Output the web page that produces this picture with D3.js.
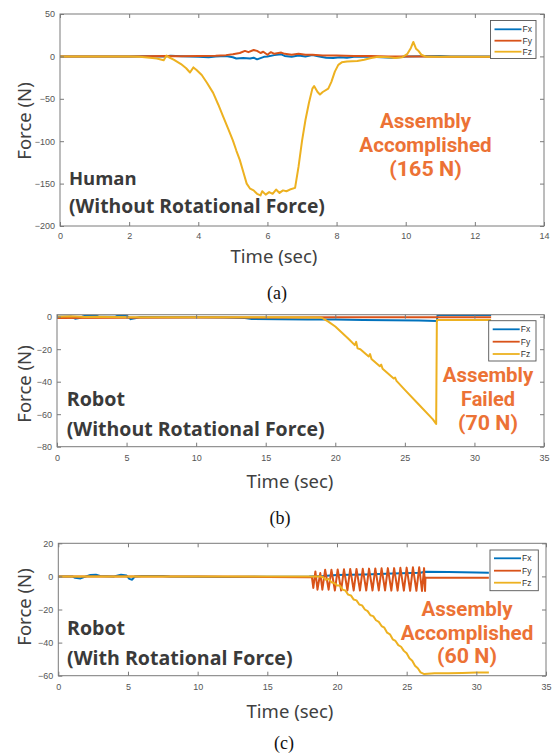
<!DOCTYPE html>
<html><head><meta charset="utf-8">
<script src="https://cdn.jsdelivr.net/npm/d3@7"></script>
<style>body{margin:0;background:#fff}</style>
</head><body>
<svg id="chart" width="553" height="756"></svg>
<script>
// ---------- DATA ----------
const seriesNames = ["Fx", "Fy", "Fz"];
const seriesColors = ["#0072BD", "#D95319", "#EDB120"];

// Panel (a): Human, without rotational force  [time (s), force (N)]
const humanFx = [[0,0],[1,0],[2,0],[2.5,0.2],[3,0],[3.2,0.8],[3.5,0.3],[4,-0.5],[4.3,-1],[4.5,0],[4.8,0.5],[5.0,-1],[5.1,-2.5],[5.3,-2],[5.5,-2.5],[5.6,-1.5],[5.7,-3.5],[5.8,-2],[5.9,-0.5],[6.0,0],[6.2,1.5],[6.4,2.5],[6.5,0.5],[6.7,-0.5],[6.9,1],[7.1,0],[7.3,1.5],[7.5,0],[7.7,-1.5],[7.9,-2],[8.1,-1],[8.3,-1.5],[8.5,-0.5],[8.8,0],[9.0,-0.3],[9.3,-1],[9.6,-1.5],[9.8,-1],[10,0],[10.5,0.3],[11,0.5],[11.3,0],[12,0],[12.5,0]];
const humanFy = [[0,0],[2,0],[3,0.5],[3.5,0.2],[4,0.5],[4.5,0.8],[4.8,1.5],[5.0,2.5],[5.2,4],[5.35,6.5],[5.45,5],[5.6,7.5],[5.7,6.5],[5.8,4],[5.88,5.5],[6.0,2],[6.1,5],[6.2,3],[6.4,4.5],[6.5,3],[6.7,2],[6.9,3],[7.1,2],[7.3,2],[7.6,1],[8,1],[8.5,0.5],[9,0.5],[9.5,0],[10,0],[10.5,0],[11,-0.5],[12.5,-0.5]];
const humanFz = [[0,0],[0.5,0],[1,0],[1.5,0],[2,0],[2.3,-0.5],[2.6,-1.5],[2.8,-2.5],[3.0,-4.5],[3.08,1],[3.15,-1],[3.3,-4],[3.5,-9],[3.65,-14],[3.76,-19],[3.86,-13],[3.95,-16],[4.1,-22],[4.25,-31],[4.43,-43],[4.58,-57],[4.72,-71],[4.86,-85],[5.0,-99],[5.1,-111],[5.2,-122],[5.3,-136],[5.4,-150],[5.5,-156],[5.6,-158],[5.7,-162],[5.8,-164],[5.85,-159],[5.95,-163],[6.05,-160],[6.15,-162],[6.25,-157],[6.35,-161],[6.45,-158],[6.55,-159],[6.65,-157],[6.8,-155],[6.9,-130],[7.0,-100],[7.1,-75],[7.2,-55],[7.3,-38],[7.35,-35],[7.45,-42],[7.52,-45],[7.6,-42],[7.76,-38],[7.85,-30],[7.95,-18],[8.05,-10],[8.15,-7],[8.3,-6],[8.6,-5.5],[8.8,-4],[9.0,-2],[9.2,-0.5],[9.5,-1],[9.7,-2],[9.9,-1],[10.05,3],[10.15,10],[10.22,17],[10.3,9],[10.38,6],[10.45,2],[10.6,-0.5],[11,-0.5],[11.5,-0.5],[12,-0.5],[12.5,-0.5]];

// Panel (b): Robot, without rotational force
const robotAFx = [[0,0],[1,0],[1.3,-1.2],[1.6,-0.8],[1.9,0.3],[2.2,0.8],[2.8,0.8],[3,0],[4.2,0],[4.4,0.8],[5,0.8],[5.3,-1.5],[5.6,-1],[6,-0.2],[8,-0.3],[10,-0.3],[12,-0.5],[13.5,-0.8],[14,-1.4],[16,-1.6],[18,-1.7],[20,-1.8],[22,-2],[24,-2.2],[26,-2.4],[27.3,-2.6],[27.35,1],[29,1],[31.2,1]];
const robotAFy = [[0,-0.8],[5,-0.6],[10,-0.5],[15,-0.5],[20,-0.4],[25,-0.4],[27.3,-0.4],[31.2,-0.4]];
const robotAFz = [[0,0],[1,0.3],[2,-0.2],[3,0],[5,-0.3],[8,-0.3],[12,-0.3],[16,-0.3],[19,-0.5],[19.5,-3],[20,-6],[20.5,-10],[21,-14],[21.4,-17.5],[21.5,-15.5],[21.6,-19.5],[21.8,-20],[22.4,-24.5],[22.5,-23],[22.6,-26],[23.2,-30.5],[23.3,-29.5],[23.4,-32],[24.2,-38],[24.3,-37.5],[24.4,-39.5],[25,-45],[26,-54],[27,-63],[27.25,-66],[27.3,-2],[28,-2],[29,-2],[30,-2],[31.2,-2]];

// Panel (c): Robot, with rotational force
const robotBFx = [[0,0],[1,0],[1.2,-0.8],[1.6,-1.2],[2,0],[2.3,0.8],[2.7,1],[3,0.2],[4,0],[4.5,1],[4.9,0.5],[5.1,-1.5],[5.3,-2],[5.5,0],[6,0.3],[7.5,0.3],[8,0],[10,-0.2],[12,-0.3],[15,-0.2],[18,0],[19,0.3],[20,0.8],[22,1.2],[24,1.8],[26,2.2],[26.3,2.8],[28,2.6],[30,2.3],[30.9,2.2]];
const robotBFy = [[0,0],[1,0],[5,0],[10,0],[15,-0.3],[18.0,-0.5],[18.2,-0.5],[18.3,-7],[18.45,3],[18.6,-8],[18.8,2],[18.95,-8],[19.15,4],[19.4,-8],[19.6,4],[19.85,-8.5],[20.05,4.2],[20.3,-8.5],[20.5,4.3],[20.75,-8.5],[20.95,4.5],[21.2,-8.5],[21.4,4.5],[21.65,-8.5],[21.85,4.6],[22.1,-8.5],[22.3,4.7],[22.55,-8.5],[22.75,4.8],[23.0,-8.5],[23.2,4.9],[23.45,-8.5],[23.65,5],[23.9,-8.6],[24.1,5],[24.35,-8.6],[24.55,5.2],[24.8,-8.6],[25.0,5.3],[25.25,-8.7],[25.45,5.5],[25.7,-8.7],[25.9,5.6],[26.1,-8.8],[26.25,5],[26.32,-8.8],[26.35,-0.8],[28,-0.8],[30.9,-0.8]];
const robotBFz = [[0,0],[5,0],[10,0],[15,0],[18,0],[18.8,0],[19.0,-0.5],[19.2,-2],[19.4,-1.5],[19.6,-3.5],[19.8,-4],[20.0,-5.5],[20.2,-5.5],[20.4,-8],[20.6,-8.5],[20.8,-11],[21.0,-11.5],[21.2,-14],[21.4,-14.5],[21.6,-17],[21.8,-17.5],[22.0,-20],[22.2,-21],[22.4,-23.5],[22.6,-24],[22.8,-26.5],[23.0,-27.5],[23.2,-30],[23.4,-31],[23.6,-34],[23.8,-35],[24.0,-38],[24.2,-39],[24.4,-41.5],[24.6,-42.5],[24.8,-45],[25.0,-46.5],[25.2,-49.5],[25.4,-51],[25.6,-54],[25.8,-55.5],[26.0,-58],[26.26,-59],[27,-58.5],[28,-58.5],[29,-58.3],[30,-58],[30.9,-58]];

// Tick labels
const xTicksA = [0,2,4,6,8,10,12,14];
const yTicksA = [-200,-150,-100,-50,0,50];
const xTicksBC = [0,5,10,15,20,25,30,35];
const yTicksB = [-80,-60,-40,-20,0];
const yTicksC = [-60,-40,-20,0,20];

// Texts
const axisXLabel = "Time (sec)";
const axisYLabel = "Force (N)";
const subjectLabels = [["Human","(Without Rotational Force)"],["Robot","(Without Rotational Force)"],["Robot","(With Rotational Force)"]];
const resultLabels = [["Assembly","Accomplished","(165 N)"],["Assembly","Failed","(70 N)"],["Assembly","Accomplished","(60 N)"]];
const captions = ["(a)","(b)","(c)"];

// ---------- LAYOUT ----------
const panels = [
  {left:60, right:544, top:14, bottom:226, xDomain:[0,14], yDomain:[-200,50], xTicks:xTicksA, yTicks:yTicksA,
   series:[humanFx,humanFy,humanFz],
   legend:{x:490.5,y:20.5,w:45.5,h:38,rows:[29.3,40.7,51.7]},
   subj:{x:69, base:[185,213.3], w:[67.7,256]},
   res:{cx:425.5, base:[127.5,151.5,175.5], w:[91,132.4,72.4]},
   xlab:{cx:274, base:262.5}, ylab:{x:31, cy:121}, cap:{cx:277, base:299}, tickLabY:238.5},
  {left:57, right:544, top:314.7, bottom:446.7, xDomain:[0,35], yDomain:[-80,1.23], xTicks:xTicksBC, yTicks:yTicksB,
   series:[robotAFx,robotAFy,robotAFz],
   legend:{x:488.7,y:320.7,w:47.3,h:40.3,rows:[329.3,341.7,354]},
   subj:{x:66.7, base:[406,436], w:[58.3,258]},
   res:{cx:488, base:[381.7,406,430], w:[90.6,54,60]},
   xlab:{cx:290, base:488.3}, ylab:{x:31, cy:384}, cap:{cx:280, base:524}, tickLabY:461},
  {left:58.3, right:546, top:543.3, bottom:675.7, xDomain:[0,35], yDomain:[-60,20], xTicks:xTicksBC, yTicks:yTicksC,
   series:[robotBFx,robotBFy,robotBFz],
   legend:{x:490,y:550,w:48.3,h:40.7,rows:[558.3,570.7,582.7]},
   subj:{x:67, base:[635,665], w:[58,225.7]},
   res:{cx:467, base:[616,640,663.3], w:[91,132.6,60]},
   xlab:{cx:290, base:718.3}, ylab:{x:31, cy:607}, cap:{cx:284, base:749}, tickLabY:690}
];

const svg = d3.select("#chart");
svg.append("rect").attr("width",553).attr("height",756).attr("fill","#fff");

function fit(sel, target){
  const w = sel.node().getComputedTextLength();
  const fs = parseFloat(sel.attr("font-size"));
  if (w > 0) sel.attr("font-size", (fs*target/w).toFixed(2));
  return sel;
}

const boldFont = "'Open Sans','Noto Sans',sans-serif";
const axisGray = "#7a7a7a";

panels.forEach((p, i) => {
  const g = svg.append("g");
  const x = d3.scaleLinear().domain(p.xDomain).range([p.left, p.right]);
  const y = d3.scaleLinear().domain(p.yDomain).range([p.bottom, p.top]);

  const clipId = "clip" + i;
  svg.append("clipPath").attr("id", clipId).append("rect")
    .attr("x", p.left).attr("y", p.top).attr("width", p.right - p.left).attr("height", p.bottom - p.top);

  const line = d3.line().x(d => x(d[0])).y(d => y(d[1]));
  const lg = g.append("g").attr("clip-path", `url(#${clipId})`);
  p.series.forEach((s, k) => {
    lg.append("path").datum(s).attr("d", line).attr("fill", "none")
      .attr("stroke", seriesColors[k]).attr("stroke-width", 2).attr("stroke-linejoin", "round");
  });

  // Axes (ticks inside, MATLAB style box)
  const axB = g.append("g").attr("transform", `translate(0,${p.bottom})`)
    .call(d3.axisBottom(x).tickValues(p.xTicks).tickSizeInner(-4).tickSizeOuter(0).tickPadding(8).tickFormat(d3.format("d")));
  const axL = g.append("g").attr("transform", `translate(${p.left},0)`)
    .call(d3.axisLeft(y).tickValues(p.yTicks).tickSizeInner(-4).tickSizeOuter(0).tickPadding(5).tickFormat(d3.format("d")));
  const axT = g.append("g").attr("transform", `translate(0,${p.top})`)
    .call(d3.axisTop(x).tickValues(p.xTicks).tickSizeInner(-4).tickSizeOuter(0).tickFormat(""));
  const axR = g.append("g").attr("transform", `translate(${p.right},0)`)
    .call(d3.axisRight(y).tickValues(p.yTicks).tickSizeInner(-4).tickSizeOuter(0).tickFormat(""));
  [axB, axL, axT, axR].forEach(a => {
    a.select(".domain").remove();
    a.selectAll("line").attr("stroke", axisGray);
    a.selectAll("text").attr("fill", "#555").attr("font-size", 9).attr("font-family", "'Liberation Sans',Arial,sans-serif");
  });
  axB.selectAll("text").attr("dy", null).attr("y", p.tickLabY - p.bottom);
  g.append("rect").attr("x", p.left).attr("y", p.top).attr("width", p.right - p.left).attr("height", p.bottom - p.top)
    .attr("fill", "none").attr("stroke", axisGray).attr("stroke-width", 1);

  // Legend
  const L = p.legend;
  const lgd = g.append("g");
  lgd.append("rect").attr("x", L.x).attr("y", L.y).attr("width", L.w).attr("height", L.h)
    .attr("fill", "#fff").attr("stroke", "#555").attr("stroke-width", 0.9);
  seriesNames.forEach((n, k) => {
    lgd.append("line").attr("x1", L.x + 4).attr("x2", L.x + 31).attr("y1", L.rows[k]).attr("y2", L.rows[k])
      .attr("stroke", seriesColors[k]).attr("stroke-width", 1.8);
    lgd.append("text").attr("x", L.x + 32).attr("y", L.rows[k] + 3).attr("font-size", 8.5)
      .attr("font-family", "'Liberation Sans',Arial,sans-serif").attr("fill", "#333").text(n);
  });

  // Axis labels
  g.append("text").attr("x", p.xlab.cx).attr("y", p.xlab.base).attr("text-anchor", "middle")
    .attr("font-family", "'Noto Sans',sans-serif").attr("font-size", 18.5).attr("fill", "#404040").text(axisXLabel);
  g.append("text").attr("transform", `translate(${p.ylab.x},${p.ylab.cy}) rotate(-90)`).attr("text-anchor", "middle")
    .attr("font-family", "'Noto Sans',sans-serif").attr("font-size", 18.5).attr("fill", "#404040").text(axisYLabel);

  // Subject labels
  subjectLabels[i].forEach((t, k) => {
    const tx = g.append("text").attr("x", p.subj.x).attr("y", p.subj.base[k]).attr("font-family", boldFont)
      .attr("font-weight", "bold").attr("font-size", 20).attr("fill", "#3a3a3a").text(t);
    fit(tx, p.subj.w[k]);
  });
  // Result labels (compact-metric font, stretched to the measured width)
  resultLabels[i].forEach((t, k) => {
    g.append("text").attr("x", p.res.cx).attr("y", p.res.base[k]).attr("text-anchor", "middle")
      .attr("font-family", "Roboto,'Liberation Sans',sans-serif").attr("font-weight", "bold").attr("font-size", 19.5)
      .attr("textLength", p.res.w[k]).attr("lengthAdjust", "spacingAndGlyphs")
      .attr("fill", "#EC7235").text(t);
  });

  // Caption
  g.append("text").attr("x", p.cap.cx).attr("y", p.cap.base).attr("text-anchor", "middle")
    .attr("font-family", "'Liberation Serif','Times New Roman',serif").attr("font-size", 18).attr("fill", "#111").text(captions[i]);
});
</script>
</body></html>
